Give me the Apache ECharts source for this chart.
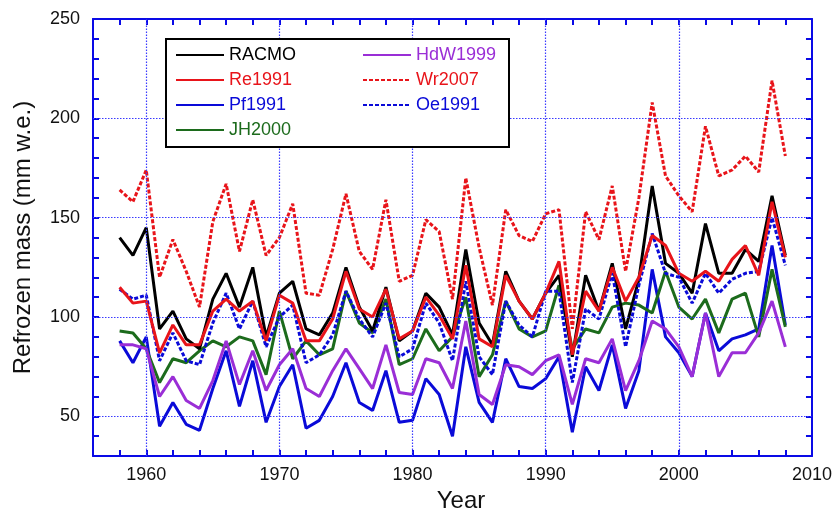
<!DOCTYPE html>
<html><head><meta charset="utf-8">
<script src="https://cdn.jsdelivr.net/npm/echarts@6/dist/echarts.min.js"></script>
<style>html,body{margin:0;padding:0;background:#fff}#c{width:835px;height:518px}</style>
</head><body><div id="c"></div>
<script>
// ---- data ----
const years = [1958,1959,1960,1961,1962,1963,1964,1965,1966,1967,
  1968,1969,1970,1971,1972,1973,1974,1975,1976,1977,
  1978,1979,1980,1981,1982,1983,1984,1985,1986,1987,
  1988,1989,1990,1991,1992,1993,1994,1995,1996,1997,
  1998,1999,2000,2001,2002,2003,2004,2005,2006,2007,2008];
const racmo = [140,131,145,94,103,89,84,109,122,105,
  125,90,112,118,94,91,102,125,105,93,
  115,88,93,112,105,91,134,97,86,123,
  108,99,112,121,80,121,103,127,94,119,
  166,127,122,112,147,122,122,134,128,161,131];
const re1991 = [115,107,108,82,96,86,86,103,109,103,
  108,88,111,107,88,88,99,123,104,100,
  114,89,93,110,101,89,126,89,85,121,
  108,99,112,128,81,113,103,125,108,120,
  141,136,122,118,123,118,129,136,121,158,130];
const pf1991 = [88,77,90,45,57,46,43,64,83,55,
  78,47,65,76,44,48,60,77,57,53,
  73,47,48,69,61,40,85,57,47,79,
  65,64,69,80,42,75,63,86,54,73,
  124,90,82,70,102,83,89,91,94,136,96];
const jh2000 = [93,92,84,67,79,77,83,88,85,90,
  88,71,103,79,88,81,84,113,97,92,
  109,76,79,94,83,90,110,70,81,108,
  94,90,93,116,84,94,92,105,107,106,
  102,123,105,99,109,92,109,112,90,124,95];
const hdw1999 = [86,86,84,60,70,58,54,68,88,66,
  83,63,76,84,64,60,73,84,74,64,
  86,62,61,79,77,64,98,61,56,76,
  75,71,78,81,56,79,77,89,63,78,
  98,94,85,70,102,70,82,82,92,108,85];
const wr2007 = [164,158,174,120,139,123,105,148,167,133,
  159,131,140,157,112,111,134,162,133,124,
  159,118,121,149,143,109,170,135,106,154,
  141,138,152,154,94,153,139,166,123,160,
  208,171,161,153,196,171,174,181,173,219,181];
const oe1991 = [114,109,111,78,92,78,76,97,112,94,
  108,85,100,106,77,81,91,113,99,90,
  107,80,84,107,97,78,118,80,71,108,
  96,90,113,113,67,104,99,122,85,116,
  142,122,120,107,122,112,119,122,123,150,126];
const xGridTicks = [1960,1970,1980,1990,2000];
const yGridTicks = [50,100,150,200];
const legendCol1 = ['RACMO','Re1991','Pf1991','JH2000'];
const legendCol2 = ['HdW1999','Wr2007','Oe1991'];

// ---- styling ----
const FONT = '"Liberation Sans", Arial, Helvetica, sans-serif';
const AXIS_BLUE = '#0a0ae6';
const GRID_BLUE = '#3a3aff';
const C = {
  RACMO:'#000000', Re1991:'#e8141a', Pf1991:'#0a0ad8', JH2000:'#1c6b1c',
  HdW1999:'#9a2ed6', Wr2007:'#e8141a', Oe1991:'#0a0ad8'
};
const pairs = vals => years.map((y,i)=>[y, vals[i]]);

function mkSeries(name, vals, dash, width){
  return {
    name, type:'line', data: pairs(vals), symbol:'none', z:2,
    lineStyle:{color:C[name], width: width||3, type: dash ? [4,2] : 'solid'},
    itemStyle:{color:C[name]},
    emphasis:{disabled:true}, animation:false, silent:true
  };
}

const axisBase = {
  type:'value',
  axisLine:{show:true, onZero:false, lineStyle:{color:AXIS_BLUE, width:2}},
  axisTick:{show:true, inside:true, length:6, lineStyle:{color:AXIS_BLUE, width:2}},
  splitLine:{show:false}
};
const labelBase = {color:'#111', fontSize:18, fontFamily:FONT};

const legendItem = n => ({name:n, textStyle:{color: C[n]}});
const legendBase = {
  orient:'vertical', itemWidth:48, itemHeight:14, itemGap:5, padding:0, selectedMode:false, z:20,
  itemStyle:{opacity:0, borderWidth:0},
  textStyle:{fontSize:18, fontFamily:FONT, lineHeight:20}
};

const option = {
  animation:false,
  grid:{left:93, top:19, right:21, bottom:52, containLabel:false},
  xAxis:[
    Object.assign({}, axisBase, {
      position:'bottom', min:1956, max:2010, interval:2,
      axisLabel: Object.assign({}, labelBase, {margin:10, formatter: v => (v % 10 === 0 ? String(v) : '')}),
      name:'Year', nameLocation:'middle', nameGap:26,
      nameTextStyle:{fontSize:24, color:'#111', fontFamily:FONT, padding:[0,0,0,17]}
    }),
    Object.assign({}, axisBase, {position:'top', min:1956, max:2010, interval:2, axisLabel:{show:false}})
  ],
  yAxis:[
    Object.assign({}, axisBase, {
      position:'left', min:30, max:250, interval:10,
      axisLabel: Object.assign({}, labelBase, {margin:13, formatter: v => (v % 50 === 0 ? String(v) : '')}),
      name:'Refrozen mass (mm w.e.)', nameLocation:'middle', nameGap:58,
      nameTextStyle:{fontSize:24, color:'#111', fontFamily:FONT}
    }),
    Object.assign({}, axisBase, {position:'right', min:30, max:250, interval:10, axisLabel:{show:false}})
  ],
  legend:[
    Object.assign({}, legendBase, {left:175, top:45, data: legendCol1.map(legendItem)}),
    Object.assign({}, legendBase, {left:362, top:45, data: legendCol2.map(legendItem)})
  ],
  graphic:[{
    type:'rect', z:15, silent:true,
    shape:{x:166, y:39, width:343, height:108},
    style:{fill:'#fff', stroke:'#000', lineWidth:2}
  }],
  series:[
    {
      name:'grid', type:'line', data:[], z:0, silent:true, animation:false,
      itemStyle:{color:GRID_BLUE}, lineStyle:{color:GRID_BLUE},
      markLine:{
        silent:true, symbol:['none','none'], animation:false, label:{show:false},
        emphasis:{disabled:true},
        itemStyle:{color:GRID_BLUE},
        lineStyle:{color:GRID_BLUE, width:1.2, type:[1.5,1.5], opacity:1},
        data: xGridTicks.map(v => ({xAxis:v})).concat(yGridTicks.map(v => ({yAxis:v})))
      }
    },
    mkSeries('Wr2007', wr2007, true),
    mkSeries('Pf1991', pf1991, false),
    mkSeries('JH2000', jh2000, false),
    mkSeries('HdW1999', hdw1999, false),
    mkSeries('RACMO', racmo, false, 3),
    mkSeries('Oe1991', oe1991, true),
    mkSeries('Re1991', re1991, false)
  ]
};
const chart = echarts.init(document.getElementById('c'), null, {renderer:'canvas'});
chart.setOption(option);
</script>
</body></html>
